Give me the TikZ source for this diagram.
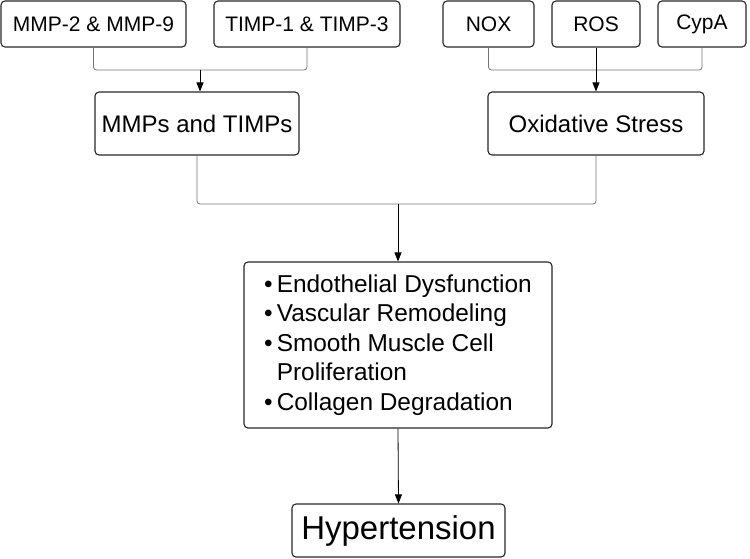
\documentclass[tikz,border=0pt]{standalone}
\usepackage{fontspec}
\setmainfont{Liberation Sans}
\usetikzlibrary{arrows.meta}

\begin{document}
\begin{tikzpicture}[
    x=1pt, y=1pt,
    box/.style={rectangle, draw=black!85, line width=1.1pt, rounded corners=4pt, inner sep=0pt, align=center},
    smallbox/.style={box, minimum height=46pt, font=\fontsize{21}{25}\selectfont},
    midbox/.style={box, minimum height=63pt, font=\fontsize{24}{29}\selectfont},
    bracket/.style={draw=black!55, line width=0.8pt, rounded corners=3pt},
    arrow/.style={-{Triangle[length=9pt, width=7pt]}, draw=black, line width=0.8pt}
]
\useasboundingbox (0,0) rectangle (750,-558);

% top row
\node[smallbox, minimum width=185pt] (mmp) at (93.5,-24) {MMP-2 \& MMP-9};
\node[smallbox, minimum width=186pt] (timp) at (307,-24) {TIMP-1 \& TIMP-3};
\node[smallbox, minimum width=91pt] (nox) at (488.5,-24) {NOX};
\node[smallbox, minimum width=88pt] (ros) at (596,-24) {ROS};
\node[smallbox, minimum width=88pt] (cypa) at (702,-24) {CypA};

% second row
\node[midbox, minimum width=204pt] (mmps) at (197,-123.5) {MMPs and TIMPs};
\node[midbox, minimum width=216pt] (oxs) at (596,-123.5) {Oxidative Stress};

% effects
\node[box, minimum width=308pt, minimum height=166pt, align=left,
      font=\fontsize{24.4}{29.5}\selectfont] (effects) at (398,-345)
    {\textbullet\,Endothelial Dysfunction\\
     \textbullet\,Vascular Remodeling\\
     \textbullet\,Smooth Muscle Cell\\
     \hphantom{\textbullet\,}Proliferation\\
     \textbullet\,Collagen Degradation};

% outcome
\node[box, minimum width=213pt, minimum height=53pt, font=\fontsize{33}{38}\selectfont] (htn) at (398.5,-530.5) {Hypertension};

% junctions
\coordinate (j1) at (200,-70);
\coordinate (j2) at (596,-70);
\coordinate (j3) at (398,-204);

% connectors
\draw[bracket] (mmp.south) |- (j1) -| (timp.south);
\draw[arrow] (j1) -- (j1 |- mmps.north);
\draw[bracket] (nox.south) |- (j2) -| (cypa.south);
\draw[arrow] (ros.south) -- (oxs.north);
\draw[bracket] (mmps.south) |- (j3) -| (oxs.south);
\draw[arrow] (j3) -- (effects.north);
\draw[arrow] (effects.south) -- (htn.north);

\end{tikzpicture}
\end{document}
